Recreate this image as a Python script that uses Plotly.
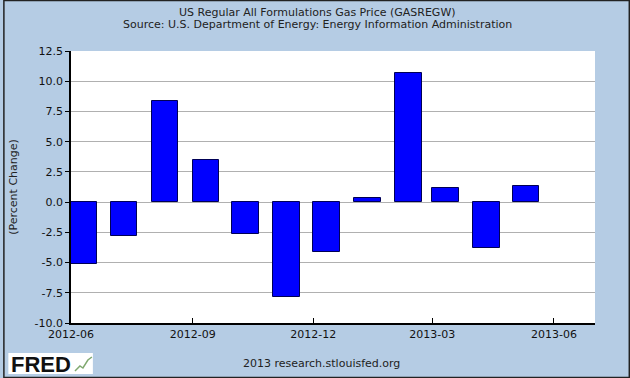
import plotly.graph_objects as go

months = ["2012-06-01", "2012-07-01", "2012-08-01", "2012-09-01", "2012-10-01", "2012-11-01",
          "2012-12-01", "2013-01-01", "2013-02-01", "2013-03-01", "2013-04-01", "2013-05-01"]
pct_change = [-5.14, -2.83, 8.33, 3.5, -2.67, -7.86, -4.11, 0.36, 10.67, 1.18, -3.78, 1.36]

y_ticks = [-10, -7.5, -5, -2.5, 0, 2.5, 5, 7.5, 10, 12.5]
y_ticktext = ["-10.0", "-7.5", "-5.0", "-2.5", "0.0", "2.5", "5.0", "7.5", "10.0", "12.5"]
x_ticks = ["2012-06-01", "2012-09-01", "2012-12-01", "2013-03-01", "2013-06-01"]
x_ticktext = ["2012-06", "2012-09", "2012-12", "2013-03", "2013-06"]

DAY_MS = 24 * 3600 * 1000
BG = "#B5CCE4"
FONT = "DejaVu Sans"

fig = go.Figure()
fig.add_trace(go.Bar(
    x=months, y=pct_change,
    width=[20 * DAY_MS] * len(months), offset=0,
    marker=dict(color="#0000FF", line=dict(color="#000055", width=1)),
))

W, H = 630, 378
L, R, T, B = 68, 35, 51, 55
pw, ph = W - L - R, H - T - B

def px(x):
    return (x - L) / pw

def py(y):
    return (H - B - y) / ph

fig.update_layout(
    width=W, height=H,
    margin=dict(l=L, r=R, t=T, b=B),
    paper_bgcolor=BG, plot_bgcolor="white",
    showlegend=False,
    bargap=0,
    font=dict(family=FONT, size=11, color="#222222"),
    xaxis=dict(
        type="date", range=["2012-06-01", "2013-07-02"],
        tickvals=x_ticks, ticktext=x_ticktext,
        ticks="inside", ticklen=5, tickcolor="black", tickwidth=1,
        showline=True, linecolor="black", linewidth=1.5,
        showgrid=False, zeroline=False,
        tickfont=dict(family=FONT, size=11, color="#111111"),
    ),
    yaxis=dict(
        range=[-10, 12.5],
        tickvals=y_ticks, ticktext=y_ticktext,
        ticks="outside", ticklen=4, tickcolor="black", tickwidth=1,
        showline=True, linecolor="black", linewidth=1.5,
        showgrid=True, gridcolor="#B0B0B0", gridwidth=1,
        zeroline=False,
        tickfont=dict(family=FONT, size=11, color="#111111"),
        title=dict(text="(Percent Change)", font=dict(family=FONT, size=11, color="#222222"), standoff=15),
    ),
    annotations=[
        dict(text="US Regular All Formulations Gas Price (GASREGW)", xref="paper", yref="paper",
             x=px(316), y=py(12), showarrow=False, xanchor="center", yanchor="middle",
             font=dict(family=FONT, size=11, color="#222222")),
        dict(text="Source: U.S. Department of Energy: Energy Information Administration", xref="paper", yref="paper",
             x=px(316), y=py(25), showarrow=False, xanchor="center", yanchor="middle",
             font=dict(family=FONT, size=11, color="#222222")),
        dict(text="2013 research.stlouisfed.org", xref="paper", yref="paper",
             x=px(320), y=py(363), showarrow=False, xanchor="center", yanchor="middle",
             font=dict(family=FONT, size=11, color="#222222")),
        dict(text="<b>FRED</b>", xref="paper", yref="paper",
             x=px(6), y=py(364), showarrow=False, xanchor="left", yanchor="middle",
             font=dict(family="Liberation Sans", size=22, color="#111111")),
    ],
    shapes=[
        dict(type="rect", xref="paper", yref="paper", x0=px(5), x1=px(90), y0=py(353), y1=py(374),
             fillcolor="white", line=dict(width=0), layer="below"),
        dict(type="path", xref="paper", yref="paper",
             path="M {} {} L {} {} L {} {} L {} {} L {} {}".format(
                 px(72), py(371), px(77), py(366), px(80), py(368), px(85), py(360), px(89), py(357)),
             line=dict(color="#7FA86F", width=1.5)),
        dict(type="rect", xref="paper", yref="paper", x0=px(0.5), x1=px(629.5), y0=py(0.5), y1=py(377.5),
             line=dict(color="#222222", width=1.5), fillcolor="rgba(0,0,0,0)"),
    ],
)

fig.write_html("out.html", config={"displayModeBar": False},
               post_script="document.body.style.margin='0';document.body.style.padding='0';")
